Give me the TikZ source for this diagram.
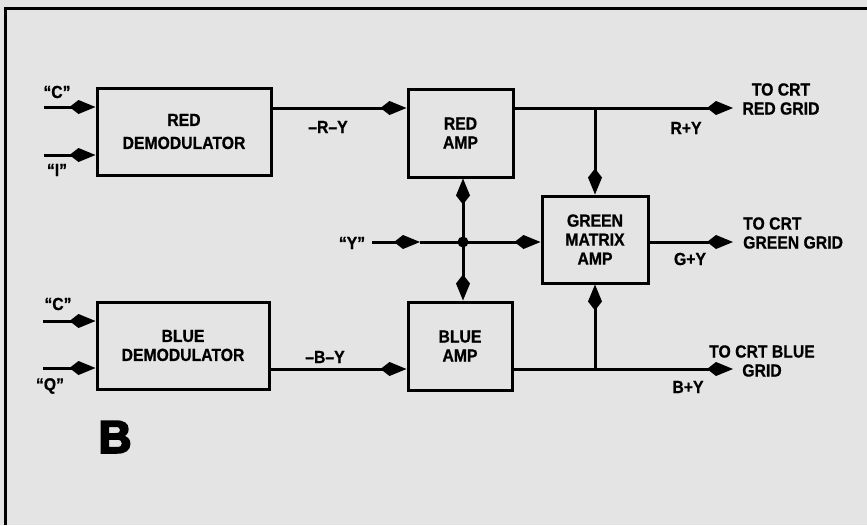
\documentclass[tikz,border=0pt]{standalone}
\usepackage{fontspec}
\setmainfont{Liberation Sans}[FakeStretch=0.9,BoldFeatures={FakeBold=0.8}]
\newfontfamily\bigfont{Liberation Sans}[FakeBold=4]
\usetikzlibrary{arrows.meta}
\definecolor{paper}{HTML}{E4E4E4}
\begin{document}
\begin{tikzpicture}[x=1pt,y=-1pt,
  every node/.style={font=\fontsize{17.5}{19}\selectfont\bfseries},
  box/.style={draw, line width=3pt, align=center, inner sep=0pt},
  wire/.style={line width=3pt},
  fl/.style={wire, -{Kite[length=26pt,width=14pt,inset=9pt]}},
  lab/.style={inner sep=0pt}]
\fill[paper] (0,0) rectangle (867,525);
\useasboundingbox (0,0) rectangle (867,525);
\draw[line width=3pt] (5,525) -- (5,8) -- (867,8);

% blocks
\node[box, minimum width=174pt, minimum height=87pt] (rd) at (184,131.5) {RED\\[4pt]DEMODULATOR};
\node[box, minimum width=172pt, minimum height=87pt] (bd) at (183,345.5) {BLUE\\DEMODULATOR};
\node[box, minimum width=105pt, minimum height=88pt] (ra) at (460.5,133) {RED\\AMP};
\node[box, minimum width=104pt, minimum height=88pt] (ba) at (460,346) {BLUE\\AMP};
\node[box, minimum width=106pt, minimum height=87pt] (gm) at (595,239.5) {GREEN\\MATRIX\\AMP};

% input points
\coordinate (c1) at (44,107);
\coordinate (i1) at (44,155);
\coordinate (c2) at (43,321);
\coordinate (q2) at (43,368);
\draw[fl] (c1) -- (c1 -| rd.west);
\draw[fl] (i1) -- (i1 -| rd.west);
\draw[fl] (c2) -- (c2 -| bd.west);
\draw[fl] (q2) -- (q2 -| bd.west);

% demod to amp
\coordinate (lR) at (0,108);
\coordinate (lB) at (0,369);
\draw[fl] (rd.east |- lR) -- (ra.west |- lR);
\draw[fl] (bd.east |- lB) -- (ba.west |- lB);

% outputs
\coordinate (oR) at (733,108);
\coordinate (oG) at (733,242);
\coordinate (oB) at (733,369);
\draw[fl] (ra.east |- oR) -- (oR);
\draw[fl] (gm.east |- oG) -- (oG);
\draw[fl] (ba.east |- oB) -- (oB);
\draw[fl] (gm.north |- oR) -- (gm.north);
\draw[fl] (gm.south |- oB) -- (gm.south);

% Y distribution
\coordinate (yin) at (372,242);
\coordinate (ymid) at (420,242);
\coordinate (J) at (463,242);
\draw[fl] (yin) -- (ymid);
\draw[wire] (ymid) -- (J);
\draw[fl] (J) -- (gm.west |- J);
\draw[fl] (J) -- (ra.south -| J);
\draw[fl] (J) -- (ba.north -| J);
\fill (J) circle (5.5pt);

% labels
\node[lab] (lc1) at (57,92) {“C”};
\node[lab] (li1) at (57,170) {“I”};
\node[lab] (lc2) at (58,304) {“C”};
\node[lab] (lq2) at (50,386) {“Q”};
\node[lab] (ly) at (352,243) {“Y”};
\node[lab] (lry) at (328,127) {–R–Y};
\node[lab] (lby) at (325,357) {–B–Y};
\node[lab] (lrpy) at (686,128) {R+Y};
\node[lab] (lgpy) at (690,259) {G+Y};
\node[lab] (lbpy) at (688,387) {B+Y};
\node[lab, align=center] (tr) at (781,99) {TO CRT\\RED GRID};
\node[lab, align=left, anchor=west] (tg) at (743,233) {TO CRT\\GREEN GRID};
\node[lab, align=center] (tb) at (762,361) {TO CRT BLUE\\GRID};
\node[lab, font=\bigfont\bfseries\fontsize{46}{46}\selectfont] (bigb) at (115,437) {B};
\end{tikzpicture}
\end{document}
